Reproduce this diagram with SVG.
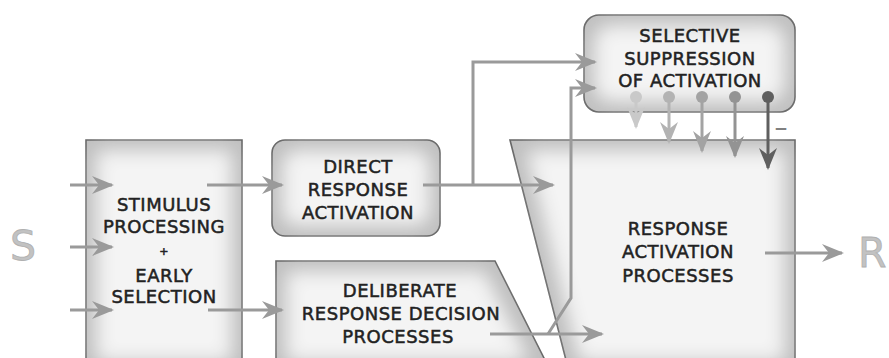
<svg xmlns="http://www.w3.org/2000/svg" width="889" height="358" viewBox="0 0 889 358">
<style>
.t{font-family:"DejaVu Sans","Liberation Sans",sans-serif;font-size:18px;letter-spacing:0.5px;fill:#222;stroke:#222;stroke-width:0.5;text-anchor:middle}
.big{font-family:"DejaVu Sans","Liberation Sans",sans-serif;font-size:41px;fill:#c2c2c2;stroke:#b0b0b0;stroke-width:0.8}
.box{fill:#c0c0c0;filter:url(#inner)}
.edge{fill:none;stroke:#666;stroke-width:1.6}
.c{fill:none;stroke:#9a9a9a;stroke-width:3}
</style>
<defs>
<filter id="inner" x="-5%" y="-5%" width="110%" height="110%">
<feMorphology in="SourceAlpha" operator="erode" radius="12" result="e"/>
<feGaussianBlur in="e" stdDeviation="9" result="b"/>
<feFlood flood-color="#f4f4f4"/>
<feComposite in2="b" operator="in" result="l1"/>
<feComposite in="l1" in2="SourceAlpha" operator="in" result="l2"/>
<feMerge><feMergeNode in="SourceGraphic"/><feMergeNode in="l2"/></feMerge>
</filter>
<marker id="a" markerUnits="userSpaceOnUse" viewBox="0 0 22 18" markerWidth="22" markerHeight="18" refX="20" refY="9" orient="auto"><path d="M22,9 L0,0 L7,9 L0,18 z" fill="#9a9a9a"/></marker>
<marker id="a1" markerUnits="userSpaceOnUse" viewBox="0 0 22 18" markerWidth="22" markerHeight="18" refX="20" refY="9" orient="auto"><path d="M22,9 L0,0 L7,9 L0,18 z" fill="#c9c9c9"/></marker>
<marker id="a2" markerUnits="userSpaceOnUse" viewBox="0 0 22 18" markerWidth="22" markerHeight="18" refX="20" refY="9" orient="auto"><path d="M22,9 L0,0 L7,9 L0,18 z" fill="#b3b3b3"/></marker>
<marker id="a3" markerUnits="userSpaceOnUse" viewBox="0 0 22 18" markerWidth="22" markerHeight="18" refX="20" refY="9" orient="auto"><path d="M22,9 L0,0 L7,9 L0,18 z" fill="#a3a3a3"/></marker>
<marker id="a4" markerUnits="userSpaceOnUse" viewBox="0 0 22 18" markerWidth="22" markerHeight="18" refX="20" refY="9" orient="auto"><path d="M22,9 L0,0 L7,9 L0,18 z" fill="#939393"/></marker>
<marker id="a5" markerUnits="userSpaceOnUse" viewBox="0 0 22 18" markerWidth="22" markerHeight="18" refX="20" refY="9" orient="auto"><path d="M22,9 L0,0 L7,9 L0,18 z" fill="#5f5f5f"/></marker>
</defs>
<rect width="889" height="358" fill="#fff"/>

<text class="big" x="10" y="260">S</text>
<text class="big" x="858" y="267">R</text>

<g id="stimulus">
<path id="p-stim" class="box" d="M86,140 H242 V372 H86 Z"/>
<use href="#p-stim" class="edge"/>
<text class="t" x="164" y="211">STIMULUS</text>
<text class="t" x="164" y="233">PROCESSING</text>
<text class="t" x="164" y="255" style="font-size:11px">+</text>
<text class="t" x="164" y="282">EARLY</text>
<text class="t" x="164" y="303">SELECTION</text>
</g>

<g id="direct">
<rect id="p-direct" class="box" x="272" y="140" width="168" height="96" rx="13"/>
<use href="#p-direct" class="edge"/>
<text class="t" x="358" y="173">DIRECT</text>
<text class="t" x="358" y="196">RESPONSE</text>
<text class="t" x="358" y="219">ACTIVATION</text>
</g>

<g id="deliberate">
<path id="p-delib" class="box" d="M276,261 H495 L551,372 H276 Z"/>
<use href="#p-delib" class="edge"/>
<text class="t" x="400" y="297">DELIBERATE</text>
<text class="t" x="401" y="320">RESPONSE DECISION</text>
<text class="t" x="398" y="343">PROCESSES</text>
</g>

<g id="response">
<path id="p-resp" class="box" d="M510,140 H795 V372 H569 Z"/>
<use href="#p-resp" class="edge"/>
<text class="t" x="678" y="235">RESPONSE</text>
<text class="t" x="678" y="258">ACTIVATION</text>
<text class="t" x="678" y="282">PROCESSES</text>
</g>

<g id="suppression">
<rect id="p-supp" class="box" x="584" y="15" width="211" height="97" rx="15"/>
<use href="#p-supp" class="edge"/>
<text class="t" x="690" y="42">SELECTIVE</text>
<text class="t" x="690" y="65">SUPPRESSION</text>
<text class="t" x="690" y="87">OF ACTIVATION</text>
</g>

<g id="connectors">
<path class="c" d="M70,185 H112" marker-end="url(#a)"/>
<path class="c" d="M70,247 H112" marker-end="url(#a)"/>
<path class="c" d="M70,310 H112" marker-end="url(#a)"/>
<path class="c" d="M207,185 H282" marker-end="url(#a)"/>
<path class="c" d="M208,310 H282" marker-end="url(#a)"/>
<path class="c" d="M423,185 H553" marker-end="url(#a)"/>
<path class="c" d="M473,185 V62 H595" marker-end="url(#a)"/>
<path class="c" d="M490,334 H602" marker-end="url(#a)"/>
<path class="c" d="M548,334 L571,298 V88 H595" marker-end="url(#a)"/>
<path class="c" d="M765,253 H842" marker-end="url(#a)"/>

<circle cx="636" cy="97" r="6" fill="#c9c9c9"/>
<circle cx="669" cy="97" r="6" fill="#b3b3b3"/>
<circle cx="702" cy="97" r="6" fill="#a3a3a3"/>
<circle cx="735" cy="97" r="6" fill="#939393"/>
<circle cx="768" cy="97" r="6" fill="#5f5f5f"/>
<path d="M636,97 V127" fill="none" stroke="#c9c9c9" stroke-width="3" marker-end="url(#a1)"/>
<path d="M669,97 V142" fill="none" stroke="#b3b3b3" stroke-width="3" marker-end="url(#a2)"/>
<path d="M702,97 V151" fill="none" stroke="#a3a3a3" stroke-width="3" marker-end="url(#a3)"/>
<path d="M735,97 V156" fill="none" stroke="#939393" stroke-width="3" marker-end="url(#a4)"/>
<path d="M768,97 V168" fill="none" stroke="#5f5f5f" stroke-width="3" marker-end="url(#a5)"/>
</g>
<text x="781" y="136" style="font-family:'DejaVu Sans',sans-serif;font-size:26px;fill:#808080;text-anchor:middle">–</text>
</svg>
